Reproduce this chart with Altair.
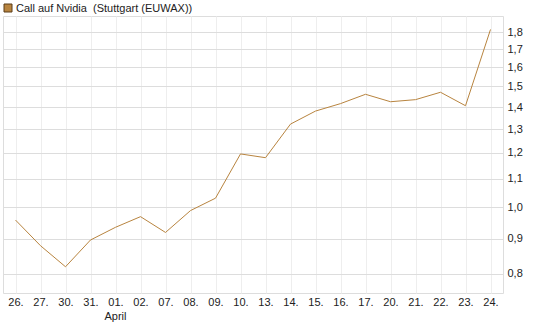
import altair as alt
import pandas as pd

days = ["26.", "27.", "30.", "31.", "01.", "02.", "07.", "08.", "09.", "10.",
        "13.", "14.", "15.", "16.", "17.", "20.", "21.", "22.", "23.", "24."]
prices = [0.958, 0.879, 0.819, 0.896, 0.935, 0.969, 0.919, 0.989, 1.031, 1.196,
          1.181, 1.322, 1.381, 1.416, 1.461, 1.425, 1.435, 1.471, 1.406, 1.816]
y_ticks = [0.8, 0.9, 1.0, 1.1, 1.2, 1.3, 1.4, 1.5, 1.6, 1.7, 1.8]
legend_label = "Call auf Nvidia \u00a0(Stuttgart (EUWAX))"
month_label = "April"
month_at = "01."

df = pd.DataFrame({"day": days, "price": prices})

W, H = 500, 277
FONT = "Liberation Sans"
LINE_COLOR = "#b8843f"

x_enc = alt.X("day:O", sort=days,
              scale=alt.Scale(domain=days, type="point", padding=0.5),
              axis=alt.Axis(title=None, labelAngle=0, ticks=False, domain=False,
                            grid=True, gridColor="#eeeeee", labelFont=FONT,
                            labelFontSize=11, labelColor="#222222", labelPadding=3))
y_enc = alt.Y("price:Q",
              scale=alt.Scale(type="log", domain=[0.75, 1.9], nice=False, zero=False),
              axis=alt.Axis(title=None, orient="right", values=y_ticks, ticks=False,
                            domain=False, grid=True, gridColor="#dddddd",
                            labelFont=FONT, labelFontSize=11, labelColor="#222222",
                            labelPadding=4,
                            labelExpr="replace(format(datum.value, '.1f'), '.', ',')"))

line = alt.Chart(df).mark_line(color=LINE_COLOR, strokeWidth=1).encode(x=x_enc, y=y_enc)

month = alt.Chart(pd.DataFrame({"day": [month_at], "t": [month_label]})).mark_text(
    font=FONT, fontSize=11, color="#222222", baseline="alphabetic"
).encode(x=alt.X("day:O", sort=days), y=alt.value(H + 27), text="t:N")

legend_sq = alt.Chart(pd.DataFrame({"k": [legend_label]})).mark_rect(
    color=LINE_COLOR, stroke="#5a3d18", strokeWidth=1
).encode(x=alt.value(1), x2=alt.value(9), y=alt.value(-12), y2=alt.value(-4))

legend_txt = alt.Chart(pd.DataFrame({"k": [legend_label]})).mark_text(
    font=FONT, fontSize=11, color="#222222", align="left", baseline="alphabetic"
).encode(x=alt.value(13), y=alt.value(-4), text="k:N")

chart = alt.layer(line, month, legend_sq, legend_txt).properties(
    width=W, height=H,
    autosize=alt.AutoSizeParams(type="none"),
    padding={"left": 3, "top": 16, "right": 42, "bottom": 34},
).configure_view(stroke="#dddddd", strokeWidth=1).configure(background="white")

chart.save("out.html", embed_options={"renderer": "svg", "actions": False})
